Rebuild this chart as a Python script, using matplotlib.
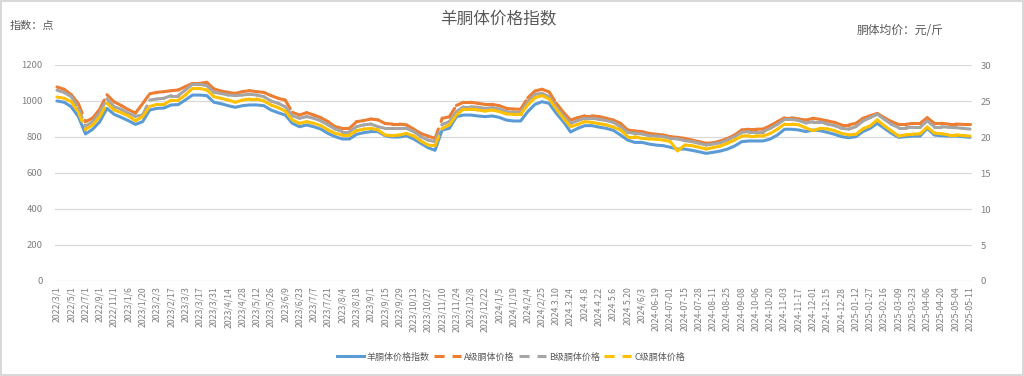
import matplotlib.pyplot as plt
import numpy as np
from matplotlib.collections import LineCollection
from matplotlib.lines import Line2D

plt.rcParams['font.family'] = ['Noto Sans CJK SC', 'DejaVu Sans']

# 横轴标签（每两个数据点显示一个）
tick_labels = [
    '2022/3/1', '2022/5/1', '2022/7/1', '2022/9/1', '2022/11/1', '2023/1/6', '2023/1/20',
    '2023/2/3', '2023/2/17', '2023/3/3', '2023/3/17', '2023/3/31', '2023/4/14', '2023/4/28',
    '2023/5/12', '2023/5/26', '2023/6/9', '2023/6/23', '2023/7/7', '2023/7/21', '2023/8/4',
    '2023/8/18', '2023/9/1', '2023/9/15', '2023/9/29', '2023/10/13', '2023/10/27',
    '2023/11/10', '2023/11/24', '2023/12/8', '2023/12/22', '2024/1/5', '2024/1/19',
    '2024/2/4', '2024/2/25', '2024.3.10', '2024.3.24', '2024.4.8', '2024.4.22', '2024.5.6',
    '2024.5.20', '2024/6/3', '2024-06-19', '2024-07-01', '2024-07-15', '2024-07-28',
    '2024-08-11', '2024-08-25', '2024-09-08', '2024-10-06', '2024-10-20', '2024-11-03',
    '2024-11-17', '2024-12-01', '2024-12-15', '2024-12-28', '2025-01-12', '2025-01-27',
    '2025-02-16', '2025-03-09', '2025-03-23', '2025-04-06', '2025-04-20', '2025-05-04',
    '2025-05-11',
]

# 羊胴体价格指数（点，左轴）
index_pts = [
    1000, 993, 968, 913, 817, 843, 885, 959, 926, 909,
    891, 870, 885, 950, 959, 961, 978, 980, 1006, 1033,
    1033, 1030, 993, 985, 974, 965, 974, 978, 978, 974,
    950, 935, 922, 876, 857, 867, 857, 844, 820, 802,
    789, 789, 815, 824, 830, 830, 807, 800, 800, 807,
    789, 765, 741, 726, 839, 848, 913, 922, 922, 917,
    913, 917, 909, 894, 889, 889, 941, 981, 996, 987,
    931, 885, 828, 848, 863, 863, 855, 848, 837, 811,
    783, 770, 770, 761, 755, 752, 743, 733, 733, 726,
    718, 709, 715, 722, 733, 750, 774, 778, 778, 778,
    789, 811, 843, 843, 839, 830, 839, 835, 826, 815,
    802, 796, 802, 830, 848, 876, 848, 820, 798, 802,
    805, 805, 848, 811, 807, 805, 805, 802, 798,
]

# 胴体均价（元/斤，右轴）
a_price = [
    26.95, 26.63, 25.88, 24.63, 22.13, 22.63, 23.88, 25.88, 24.88, 24.38,
    23.80, 23.33, 24.63, 26.00, 26.20, 26.30, 26.43, 26.53, 27.00, 27.45,
    27.45, 27.60, 26.68, 26.38, 26.20, 26.05, 26.30, 26.43, 26.30, 26.20,
    25.75, 25.38, 25.13, 23.43, 23.05, 23.38, 23.05, 22.68, 22.13, 21.43,
    21.20, 21.20, 22.13, 22.28, 22.50, 22.38, 21.88, 21.80, 21.80, 21.68,
    21.10, 20.50, 20.13, 19.80, 22.60, 22.80, 24.38, 24.83, 24.83, 24.68,
    24.53, 24.53, 24.35, 23.98, 23.88, 23.85, 25.45, 26.38, 26.63, 26.25,
    24.68, 23.43, 22.35, 22.68, 22.95, 22.95, 22.83, 22.60, 22.35, 21.90,
    20.98, 20.83, 20.75, 20.50, 20.38, 20.28, 20.05, 19.95, 19.80, 19.58,
    19.35, 19.13, 19.20, 19.45, 19.80, 20.28, 20.98, 21.08, 21.08, 21.10,
    21.58, 22.13, 22.68, 22.68, 22.50, 22.35, 22.60, 22.45, 22.23, 22.03,
    21.68, 21.68, 21.90, 22.60, 22.95, 23.28, 22.68, 22.13, 21.75, 21.75,
    21.90, 21.90, 22.68, 21.90, 21.90, 21.80, 21.80, 21.75, 21.75,
]
b_price = [
    26.50, 26.20, 25.60, 24.00, 21.50, 22.13, 23.43, 25.30, 24.20, 23.85,
    23.28, 22.88, 23.05, 25.13, 25.28, 25.38, 25.75, 25.75, 26.53, 27.33,
    27.33, 27.13, 26.20, 26.05, 25.83, 25.75, 25.83, 25.93, 25.83, 25.60,
    25.00, 24.68, 24.20, 22.95, 22.60, 22.83, 22.60, 22.23, 21.68, 21.10,
    20.75, 20.75, 21.43, 21.68, 21.80, 21.43, 21.20, 21.20, 21.20, 21.20,
    20.75, 20.05, 19.58, 19.35, 21.75, 22.13, 23.53, 24.20, 24.20, 24.13,
    23.98, 24.08, 23.88, 23.53, 23.43, 23.43, 24.90, 25.93, 26.05, 25.60,
    24.20, 22.95, 21.90, 22.28, 22.60, 22.60, 22.45, 22.28, 22.03, 21.43,
    20.65, 20.50, 20.43, 20.18, 20.13, 20.05, 19.80, 19.73, 19.50, 19.35,
    19.13, 18.88, 19.03, 19.20, 19.58, 20.05, 20.65, 20.75, 20.75, 20.75,
    21.20, 21.75, 22.45, 22.45, 22.28, 21.95, 22.13, 22.13, 21.80, 21.58,
    21.20, 21.10, 21.43, 22.23, 22.68, 23.15, 22.45, 21.75, 21.30, 21.30,
    21.35, 21.35, 22.23, 21.43, 21.43, 21.35, 21.30, 21.20, 21.10,
]
c_price = [
    25.55, 25.38, 24.90, 23.43, 21.05, 21.68, 22.83, 24.68, 23.75, 23.38,
    22.93, 22.25, 22.83, 24.25, 24.53, 24.53, 25.13, 25.13, 25.83, 26.75,
    26.75, 26.53, 25.60, 25.38, 25.13, 24.83, 25.13, 25.28, 25.28, 25.00,
    24.45, 24.08, 23.60, 22.35, 21.90, 22.13, 21.90, 21.58, 20.98, 20.50,
    20.28, 20.28, 20.88, 21.10, 21.20, 20.98, 20.28, 20.18, 20.28, 20.50,
    20.13, 19.45, 18.88, 18.80, 21.20, 21.68, 23.05, 23.88, 23.88, 23.75,
    23.60, 23.75, 23.53, 23.20, 23.15, 23.15, 24.45, 25.45, 25.75, 25.28,
    23.88, 22.60, 21.43, 21.75, 22.13, 22.03, 21.85, 21.68, 21.38, 20.98,
    20.05, 20.05, 19.80, 19.73, 19.68, 19.58, 19.35, 18.05, 18.88, 18.80,
    18.58, 18.33, 18.53, 18.75, 19.13, 19.58, 20.13, 20.18, 20.18, 20.13,
    20.50, 21.08, 21.80, 21.80, 21.68, 21.25, 20.88, 21.20, 21.13, 20.88,
    20.50, 20.30, 20.38, 21.13, 21.55, 22.38, 21.55, 20.83, 20.13, 20.30,
    20.38, 20.45, 21.38, 20.55, 20.45, 20.30, 20.30, 20.20, 20.13,
]

names = ['羊胴体价格指数', 'A级胴体价格', 'B级胴体价格', 'C级胴体价格']
colors = ['#5B9BD5', '#ED7D31', '#A5A5A5', '#FFC000']
dash = (0, (3.3, 2.6))
txt = '#595959'
tick_col = '#7f7f7f'

x = np.arange(len(index_pts))

fig = plt.figure(figsize=(10.24, 3.76), dpi=100)
fig.patch.set_edgecolor('#d9d9d9')
fig.patch.set_linewidth(1.5)
ax = fig.add_axes([55 / 1024, 1 - 281 / 376, 917 / 1024, 216 / 376])
ax2 = ax.twinx()

ax.plot(x, index_pts, color=colors[0], lw=2.2, solid_joinstyle='round', solid_capstyle='round')


def dashed(axis, y, color):
    # 每段单独起画虚线，短段看起来是实线
    pts = np.column_stack([x, y])
    segs = np.stack([pts[:-1], pts[1:]], axis=1)
    lc = LineCollection(segs, colors=color, linewidths=2.2, linestyles=dash, capstyle='round')
    axis.add_collection(lc)


dashed(ax2, a_price, colors[1])
dashed(ax2, b_price, colors[2])
dashed(ax2, c_price, colors[3])

ax.set_xlim(-0.28, len(x) - 1 + 0.28)
ax.set_ylim(0, 1200)
ax2.set_ylim(0, 30)
ax.set_yticks(np.arange(0, 1201, 200))
ax2.set_yticks(np.arange(0, 31, 5))
ax.set_xticks(x[::2])
ax.set_xticklabels(tick_labels, rotation=90, fontsize=6.3, color=tick_col)

ax.yaxis.grid(True, color='#d9d9d9', lw=0.9)
ax.set_axisbelow(True)
for a in (ax, ax2):
    for s in a.spines.values():
        s.set_visible(False)
    a.tick_params(length=0)
ax.tick_params(axis='y', labelsize=6.8, labelcolor=tick_col, pad=9)
ax.tick_params(axis='x', pad=4)
ax2.tick_params(axis='y', labelsize=6.8, labelcolor=tick_col, pad=6)

fig.text(498 / 1024, 1 - 20 / 376, '羊胴体价格指数', fontsize=12, color=txt, ha='center', va='center')
fig.text(10 / 1024, 1 - 26 / 376, '指数：点', fontsize=8, color=txt, va='center')
fig.text(857 / 1024, 1 - 30 / 376, '胴体均价：元/斤', fontsize=8.5, color=txt, va='center')

handles = [Line2D([], [], color=colors[0], lw=2.2)]
handles += [Line2D([], [], color=c, lw=2.2, linestyle=dash) for c in colors[1:]]
leg = fig.legend(handles, names, loc='center', bbox_to_anchor=(511 / 1024, 1 - 357 / 376),
                 ncol=4, frameon=False, fontsize=6.5, handlelength=3, handletextpad=0.3,
                 columnspacing=0.5)
for t in leg.get_texts():
    t.set_color(txt)

fig.savefig('out.png', dpi=100, edgecolor=fig.get_edgecolor())
